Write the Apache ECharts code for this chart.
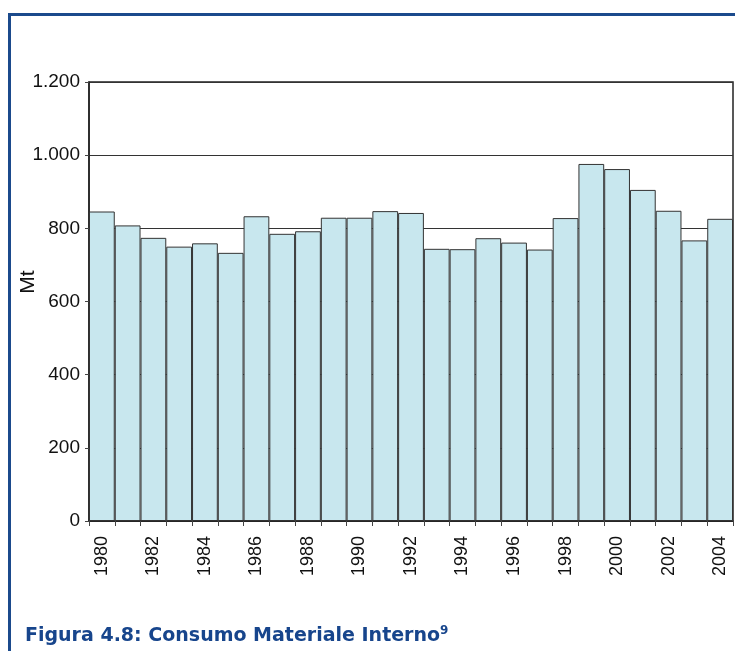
<!DOCTYPE html>
<html>
<head>
<meta charset="utf-8">
<script src="https://cdn.jsdelivr.net/npm/echarts@6/dist/echarts.min.js"></script>
<style>
  html, body { margin: 0; padding: 0; background: #fff; }
  #chart { width: 735px; height: 651px; }
</style>
</head>
<body>
<div id="chart"></div>
<script>
const years = [
  '1980', '1981', '1982', '1983', '1984', '1985', '1986', '1987', '1988',
  '1989', '1990', '1991', '1992', '1993', '1994', '1995', '1996', '1997',
  '1998', '1999', '2000', '2001', '2002', '2003', '2004'
]

// consumo materiale interno, Mt
const consumo = [
  846, 808, 774, 750, 759, 733, 833, 785, 792,
  829, 829, 847, 842, 744, 743, 773, 761, 742,
  828, 976, 962, 905, 848, 767, 826
]

const chart = echarts.init(document.getElementById('chart'))

const fmt = (v) => String(v).replace(/\B(?=(\d{3})+(?!\d))/g, '.')

const option = {
  animation: false,
  title: {
    text: '{t|Figura 4.8: Consumo Materiale Interno}{s|9}',
    left: 20,
    top: 620,
    textStyle: {
      rich: {
        t: {
          fontFamily: 'DejaVu Sans',
          fontWeight: 'bold',
          fontSize: 19,
          color: '#17458c'
        },
        s: {
          fontFamily: 'DejaVu Sans',
          fontWeight: 'bold',
          fontSize: 12,
          color: '#17458c',
          padding: [0, 0, 10, 0]
        }
      }
    }
  },
  graphic: [
    {
      type: 'rect',
      shape: { x: 9.5, y: 14.5, width: 800, height: 700 },
      style: { fill: 'none', stroke: '#1b4a8c', lineWidth: 3 }
    },
    {
      type: 'text',
      x: 28,
      y: 282,
      rotation: Math.PI / 2,
      style: {
        text: 'Mt',
        font: '21px "Liberation Sans"',
        fill: '#111',
        align: 'center',
        verticalAlign: 'middle'
      }
    }
  ],
  grid: {
    left: 89,
    right: 2,
    top: 82,
    bottom: 130,
    outerBoundsMode: 'none',
    show: true,
    borderColor: '#222',
    borderWidth: 1.5
  },
  xAxis: {
    type: 'category',
    data: years,
    boundaryGap: true,
    axisLine: { lineStyle: { color: '#222', width: 1.5 } },
    axisTick: { show: true, interval: 0, length: 5, lineStyle: { color: '#444' } },
    axisLabel: {
      interval: 1,
      rotate: 90,
      margin: 15,
      fontFamily: 'Liberation Sans',
      fontSize: 18,
      color: '#111'
    }
  },
  yAxis: {
    type: 'value',
    min: 0,
    max: 1200,
    interval: 200,
    axisLine: { show: true, lineStyle: { color: '#222', width: 1.5 } },
    axisTick: { show: true, length: 4, lineStyle: { color: '#444' } },
    axisLabel: {
      margin: 9,
      fontFamily: 'Liberation Sans',
      fontSize: 19,
      color: '#111',
      formatter: fmt
    },
    splitLine: { show: true, lineStyle: { color: '#333', width: 1 } }
  },
  series: [
    {
      type: 'bar',
      data: consumo,
      barCategoryGap: '0%',
      itemStyle: {
        color: '#c8e7ee',
        borderColor: '#333',
        borderWidth: 1
      }
    }
  ]
}

chart.setOption(option)
</script>
</body>
</html>
